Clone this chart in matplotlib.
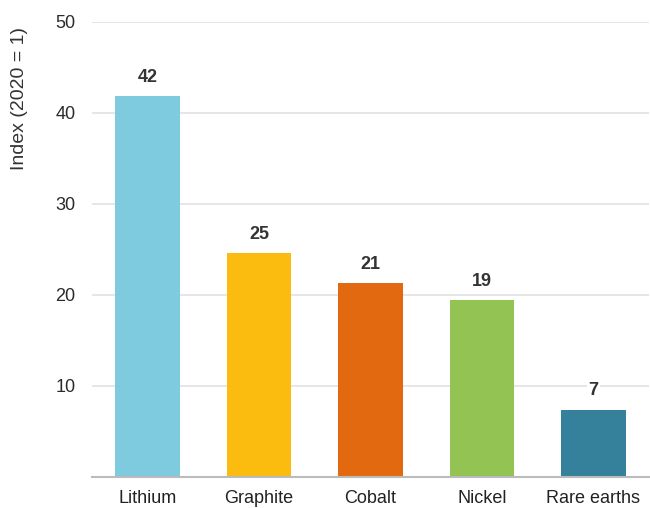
import matplotlib
matplotlib.use("Agg")
import matplotlib.pyplot as plt

categories = ["Lithium", "Graphite", "Cobalt", "Nickel", "Rare earths"]
values = [41.8, 24.6, 21.3, 19.4, 7.4]
labels = ["42", "25", "21", "19", "7"]
colors = ["#7ECADF", "#FBBC0F", "#E2690F", "#93C353", "#35809A"]
yticks = [10, 20, 30, 40, 50]

plt.rcParams['font.family'] = ['Liberation Sans', 'DejaVu Sans']

fig = plt.figure(figsize=(6.5, 5.08), dpi=100)
ax = fig.add_axes([0.1415, 0.061, 0.857, 0.896])
x = list(range(len(categories)))
bars = ax.bar(x, values, width=0.58, color=colors, zorder=2)
ax.set_xlim(-0.5, len(categories) - 0.5)
ax.set_ylim(0, 50)
ax.set_yticks(yticks)
ax.set_yticklabels([str(t) for t in yticks], fontsize=13, color="#2b2b2b")
ax.set_xticks(x)
ax.set_xticklabels(categories, fontsize=13, color="#222222")
ax.tick_params(axis="both", length=0)
ax.tick_params(axis="y", pad=12)
ax.tick_params(axis="x", pad=9)
ax.grid(axis="y", color="#E2E2E2", linewidth=1.2, zorder=0)
for s in ["top", "right", "left"]:
    ax.spines[s].set_visible(False)
ax.spines["bottom"].set_color("#BBBBBB")
ax.spines["bottom"].set_linewidth(1.5)
fig.text(20 / 650, 1 - 99 / 508, "Index (2020 = 1)", rotation=90,
         ha="center", va="center", fontsize=14, color="#333333")

for b, lab in zip(bars, labels):
    ax.annotate(lab, (b.get_x() + b.get_width() / 2, b.get_height()),
                xytext=(0, 7.5), textcoords="offset points", ha="center", va="bottom",
                fontsize=13, fontweight="bold", color="#333333",
                bbox=dict(facecolor="white", edgecolor="none", pad=1), zorder=3)

fig.savefig("out.png", dpi=100)
